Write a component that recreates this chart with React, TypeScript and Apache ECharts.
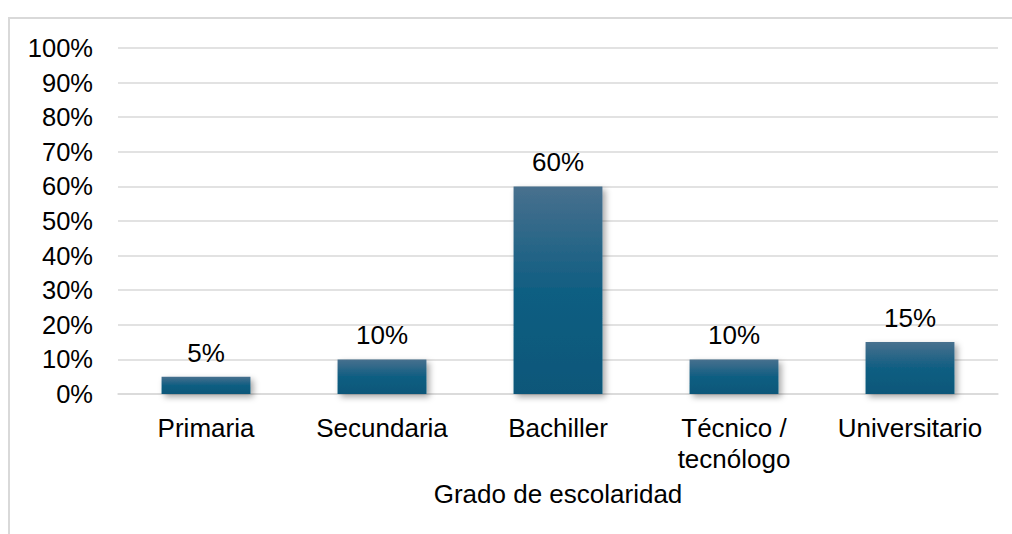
import React, { useEffect, useRef } from "react";
import * as echarts from "echarts";

const categories = ["Primaria", "Secundaria", "Bachiller", "Técnico /\ntecnólogo", "Universitario"];
const values = [5, 10, 60, 10, 15];
const axisName = "Grado de escolaridad";

export default function App() {
  const ref = useRef<HTMLDivElement>(null);
  useEffect(() => {
    const chart = echarts.init(ref.current!, undefined, { renderer: "svg" });
    const font = "Arial, 'Liberation Sans', sans-serif";
    chart.setOption({
      animation: false,
      backgroundColor: "#ffffff",
      graphic: [
        {
          type: "rect",
          shape: { x: 9, y: 18, width: 1012, height: 530 },
          style: { fill: "none", stroke: "#d9d9d9", lineWidth: 2 },
          silent: true,
        },
      ],
      grid: { left: 118, right: 14, top: 48, bottom: 140 },
      xAxis: {
        type: "category",
        data: categories,
        name: axisName,
        nameLocation: "middle",
        nameGap: 87,
        nameTextStyle: { fontSize: 26, color: "#000", fontFamily: font },
        axisLine: { show: true, lineStyle: { color: "#d9d9d9", width: 1.5 } },
        axisTick: { show: false },
        axisLabel: {
          fontSize: 26,
          color: "#000",
          fontFamily: font,
          margin: 18,
          lineHeight: 31,
          interval: 0,
        },
      },
      yAxis: {
        type: "value",
        min: 0,
        max: 100,
        interval: 10,
        axisLine: { show: false },
        axisTick: { show: false },
        splitLine: { lineStyle: { color: "#d9d9d9", width: 1.5 } },
        axisLabel: {
          formatter: "{value}%",
          fontSize: 25.5,
          color: "#000",
          fontFamily: font,
          margin: 25,
        },
      },
      series: [
        {
          type: "bar",
          data: values,
          barWidth: "50.5%",
          itemStyle: {
            color: new echarts.graphic.LinearGradient(0, 0, 0, 1, [
              { offset: 0, color: "#48708e" },
              { offset: 0.5, color: "#105e82" },
              { offset: 1, color: "#0c5779" },
            ]),
            shadowColor: "rgba(0,0,0,0.35)",
            shadowBlur: 6,
            shadowOffsetX: 3,
            shadowOffsetY: 3,
          },
          label: {
            show: true,
            position: "top",
            distance: 11,
            formatter: "{c}%",
            fontSize: 26,
            color: "#000",
            fontFamily: font,
          },
        },
      ],
    });
    return () => chart.dispose();
  }, []);
  return (
    <div
      ref={ref}
      style={{ position: "absolute", left: 0, top: 0, width: 1012, height: 534 }}
    />
  );
}
